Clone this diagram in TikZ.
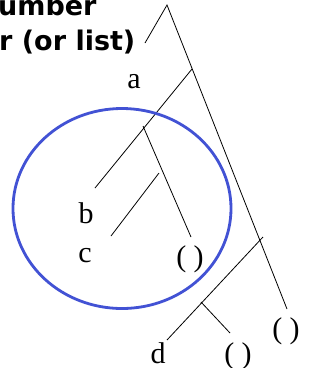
\documentclass[tikz,border=0pt]{standalone}
\usepackage{fontspec}
\setmainfont{Liberation Serif}
\newfontfamily\headfont{DejaVu Sans}
\definecolor{ringblue}{RGB}{66,82,212}
\tikzset{
  branch/.style={black, line width=0.8pt},
  leaf/.style={anchor=base, inner sep=0pt, font=\fontsize{30}{30}\selectfont},
  heading/.style={anchor=base west, inner sep=0pt, font=\headfont\bfseries\fontsize{27}{27}\selectfont}
}
\begin{document}
\begin{tikzpicture}[x=1pt, y=-1pt]
    \useasboundingbox (0,0) rectangle (320,368);

    % Heading (cut off)
    \node[heading] (numtxt) at (-2,15) {umber};
    \node[heading] (listtxt) at (-1,50) {r (or list)};

    % Tree points
    \coordinate (root) at (167,5);
    \coordinate (rootl) at (145,43);
    \coordinate (ra) at (192,69);
    \coordinate (rb) at (143,126);
    \coordinate (bend) at (95,188);
    \coordinate (nilend) at (191,237);
    \coordinate (ctop) at (159,173);
    \coordinate (cend) at (111,236);
    \coordinate (rend) at (287,309);
    \coordinate (rc) at (263,237);
    \coordinate (rd) at (201,302);
    \coordinate (dend) at (167,340);
    \coordinate (nilend2) at (230,333);

    % Branches
    \draw[branch] (rootl) -- (root) -- (rend);
    \draw[branch] (ra) -- (bend);
    \draw[branch] (rb) -- (nilend);
    \draw[branch] (ctop) -- (cend);
    \draw[branch] (rc) -- (dend);
    \draw[branch] (rd) -- (nilend2);

    % Leaves
    \node[leaf] (la) at (134,88) {a};
    \node[leaf] (lb) at (86,223) {b};
    \node[leaf] (lc) at (85,262) {c};
    \node[leaf] (lnil) at (190,266) {( )};
    \node[leaf] (ld) at (158,363) {d};
    \node[leaf] (lnil2) at (238,363) {( )};
    \node[leaf] (lnil3) at (286,338) {( )};

    % Sublist ring
    \draw[ringblue, line width=2.8pt] (122,208.5) ellipse (109 and 100);
\end{tikzpicture}
\end{document}
